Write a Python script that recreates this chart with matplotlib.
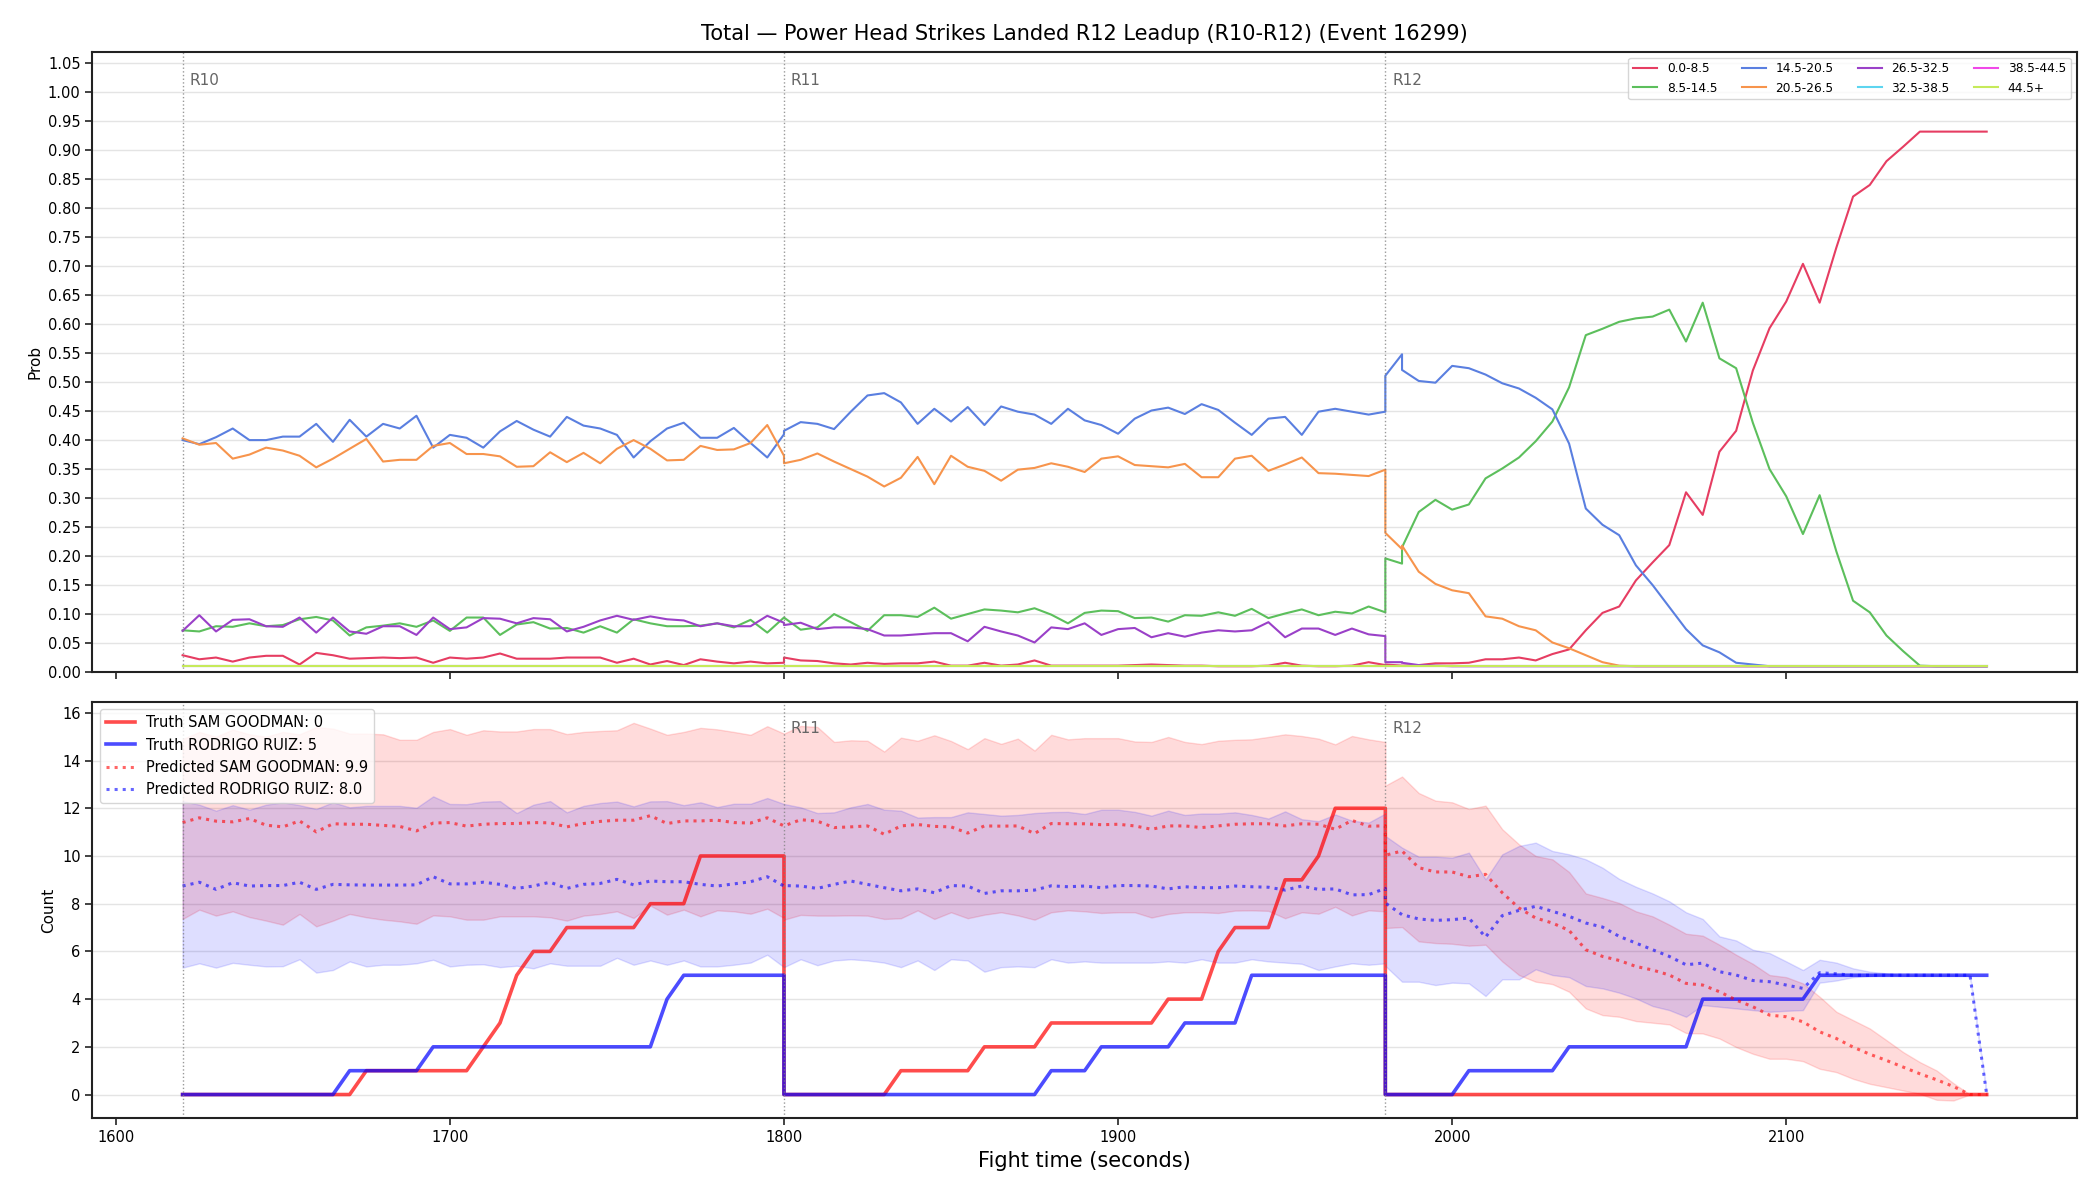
import numpy as np
import matplotlib
matplotlib.use('agg')
import matplotlib.pyplot as plt
import matplotlib.transforms as mtransforms

# round starts (seconds) and sample offsets inside a round
round_names = ['R10', 'R11', 'R12']
round_starts = [1620, 1800, 1980]
offsets = list(range(0, 185, 5))

# probability panel: R12 has a repeated sample at +5 s
t_prob = ([1620 + o for o in offsets] + [1800 + o for o in offsets]
          + [1980, 1985] + [1980 + o for o in offsets[1:]])
t_count = [1620 + o for o in offsets] + [1800 + o for o in offsets] + [1980 + o for o in offsets]

bucket_labels = ['0.0-8.5', '8.5-14.5', '14.5-20.5', '20.5-26.5',
                 '26.5-32.5', '32.5-38.5', '38.5-44.5', '44.5+']
bucket_colors = ['#e63d62', '#5cbf5c', '#5a7fe0', '#f7944c',
                 '#9a40c8', '#5dd5f0', '#f048e8', '#c6ea5a']

p_0_8 = [0.029, 0.022, 0.025, 0.018, 0.025, 0.028, 0.028, 0.013, 0.033, 0.029,
         0.023, 0.024, 0.025, 0.024, 0.025, 0.016, 0.025, 0.023, 0.025, 0.032,
         0.023, 0.023, 0.023, 0.025, 0.025, 0.025, 0.016, 0.023, 0.013, 0.019,
         0.012, 0.022, 0.018, 0.015, 0.018, 0.015, 0.016,
         0.025, 0.020, 0.019, 0.015, 0.013, 0.016, 0.014, 0.015, 0.015, 0.018,
         0.011, 0.011, 0.016, 0.011, 0.013, 0.020, 0.011, 0.011, 0.011, 0.011,
         0.011, 0.012, 0.013, 0.012, 0.011, 0.011, 0.010, 0.010, 0.010, 0.011,
         0.016, 0.011, 0.010, 0.010, 0.011, 0.017, 0.012,
         0.013, 0.011, 0.011, 0.012, 0.015, 0.015, 0.016, 0.022, 0.022, 0.025,
         0.020, 0.031, 0.039, 0.072, 0.102, 0.113, 0.158, 0.189, 0.219, 0.310,
         0.271, 0.380, 0.416, 0.520, 0.593, 0.639, 0.704, 0.637, 0.732, 0.820,
         0.840, 0.881, 0.906, 0.932, 0.932, 0.932, 0.932, 0.932]
p_8_14 = [0.072, 0.070, 0.079, 0.078, 0.084, 0.079, 0.081, 0.091, 0.095, 0.089,
          0.063, 0.077, 0.080, 0.084, 0.078, 0.089, 0.071, 0.094, 0.094, 0.064,
          0.082, 0.086, 0.075, 0.076, 0.068, 0.079, 0.068, 0.091, 0.084, 0.079,
          0.079, 0.080, 0.084, 0.077, 0.090, 0.068, 0.094,
          0.094, 0.073, 0.077, 0.100, 0.086, 0.071, 0.098, 0.098, 0.095, 0.111,
          0.092, 0.100, 0.108, 0.106, 0.103, 0.110, 0.099, 0.084, 0.102, 0.106,
          0.105, 0.093, 0.094, 0.087, 0.098, 0.097, 0.103, 0.097, 0.109, 0.093,
          0.101, 0.108, 0.098, 0.104, 0.101, 0.113, 0.103,
          0.196, 0.187, 0.215, 0.276, 0.297, 0.280, 0.289, 0.334, 0.351, 0.370,
          0.398, 0.432, 0.491, 0.581, 0.592, 0.604, 0.610, 0.613, 0.625, 0.570,
          0.637, 0.541, 0.524, 0.430, 0.350, 0.303, 0.238, 0.305, 0.208, 0.123,
          0.103, 0.063, 0.036, 0.011, 0.010, 0.010, 0.010, 0.010]
p_14_20 = [0.400, 0.393, 0.405, 0.420, 0.400, 0.400, 0.406, 0.406, 0.428, 0.397,
           0.435, 0.406, 0.428, 0.420, 0.442, 0.387, 0.409, 0.404, 0.387, 0.415,
           0.433, 0.418, 0.406, 0.440, 0.425, 0.420, 0.409, 0.370, 0.398, 0.420,
           0.430, 0.404, 0.404, 0.421, 0.395, 0.370, 0.410,
           0.416, 0.431, 0.428, 0.419, 0.449, 0.477, 0.481, 0.465, 0.428, 0.454,
           0.432, 0.457, 0.426, 0.458, 0.449, 0.444, 0.428, 0.454, 0.434, 0.426,
           0.411, 0.437, 0.451, 0.456, 0.445, 0.462, 0.452, 0.430, 0.409, 0.437,
           0.440, 0.409, 0.449, 0.454, 0.449, 0.444, 0.449,
           0.511, 0.548, 0.521, 0.502, 0.499, 0.528, 0.524, 0.513, 0.498, 0.489,
           0.473, 0.453, 0.394, 0.282, 0.254, 0.236, 0.184, 0.150, 0.112, 0.074,
           0.046, 0.034, 0.016, 0.013, 0.010, 0.010, 0.010, 0.010, 0.010, 0.010,
           0.010, 0.010, 0.010, 0.010, 0.010, 0.010, 0.010, 0.010]
p_20_26 = [0.403, 0.392, 0.395, 0.368, 0.375, 0.387, 0.382, 0.373, 0.353, 0.368,
           0.385, 0.402, 0.363, 0.366, 0.366, 0.390, 0.395, 0.376, 0.376, 0.372,
           0.354, 0.355, 0.379, 0.362, 0.378, 0.360, 0.385, 0.400, 0.385, 0.365,
           0.366, 0.390, 0.383, 0.384, 0.395, 0.426, 0.373,
           0.360, 0.366, 0.377, 0.363, 0.350, 0.337, 0.320, 0.335, 0.371, 0.324,
           0.373, 0.354, 0.347, 0.330, 0.349, 0.352, 0.360, 0.354, 0.345, 0.368,
           0.372, 0.357, 0.355, 0.353, 0.359, 0.336, 0.336, 0.368, 0.373, 0.347,
           0.358, 0.370, 0.343, 0.342, 0.340, 0.338, 0.349,
           0.240, 0.212, 0.218, 0.173, 0.152, 0.141, 0.136, 0.096, 0.092, 0.079,
           0.072, 0.051, 0.041, 0.029, 0.017, 0.011, 0.010, 0.010, 0.010, 0.010,
           0.010, 0.010, 0.010, 0.010, 0.010, 0.010, 0.010, 0.010, 0.010, 0.010,
           0.010, 0.010, 0.010, 0.010, 0.010, 0.010, 0.010, 0.010]
p_26_32 = [0.071, 0.098, 0.070, 0.090, 0.091, 0.079, 0.078, 0.094, 0.068, 0.094,
           0.070, 0.066, 0.079, 0.079, 0.064, 0.094, 0.074, 0.077, 0.093, 0.092,
           0.084, 0.093, 0.091, 0.070, 0.078, 0.089, 0.097, 0.090, 0.096, 0.091,
           0.089, 0.079, 0.084, 0.079, 0.079, 0.097, 0.085,
           0.081, 0.085, 0.074, 0.077, 0.077, 0.074, 0.063, 0.063, 0.065, 0.067,
           0.067, 0.053, 0.078, 0.070, 0.063, 0.051, 0.077, 0.074, 0.084, 0.064,
           0.074, 0.076, 0.060, 0.067, 0.061, 0.068, 0.072, 0.070, 0.072, 0.086,
           0.060, 0.075, 0.075, 0.064, 0.075, 0.065, 0.062,
           0.017, 0.017, 0.016, 0.012, 0.011, 0.010, 0.010, 0.010, 0.010, 0.010,
           0.010, 0.010, 0.010, 0.010, 0.010, 0.010, 0.010, 0.010, 0.010, 0.010,
           0.010, 0.010, 0.010, 0.010, 0.010, 0.010, 0.010, 0.010, 0.010, 0.010,
           0.010, 0.010, 0.010, 0.010, 0.010, 0.010, 0.010, 0.010]
# the three upper buckets sit on the 0.01 floor the whole time
p_32_38 = [0.010] * len(t_prob)
p_38_44 = [0.010] * len(t_prob)
p_44_up = [0.010] * len(t_prob)

truth_sam = ([0] * 11 + [1] * 7 + [2, 3, 5, 6, 6] + [7] * 5 + [8] * 3 + [10] * 6
             + [0] * 7 + [1] * 5 + [2] * 4 + [3] * 7 + [4] * 3 + [6] + [7] * 3 + [9] * 2 + [10] + [12] * 4
             + [0] * 37)
truth_rod = ([0] * 10 + [1] * 5 + [2] * 14 + [4] + [5] * 7
             + [0] * 16 + [1] * 3 + [2] * 5 + [3] * 4 + [5] * 9
             + [0] * 5 + [1] * 6 + [2] * 8 + [4] * 7 + [5] * 11)

pred_sam = [11.40, 11.60, 11.46, 11.43, 11.57, 11.29, 11.22, 11.47, 11.01, 11.35,
            11.33, 11.33, 11.28, 11.24, 11.05, 11.38, 11.40, 11.25, 11.33, 11.36,
            11.36, 11.40, 11.39, 11.22, 11.36, 11.45, 11.50, 11.50, 11.69, 11.36,
            11.47, 11.47, 11.50, 11.40, 11.38, 11.60, 11.26,
            11.26, 11.52, 11.46, 11.19, 11.22, 11.26, 10.91, 11.26, 11.32, 11.24,
            11.22, 10.96, 11.26, 11.25, 11.26, 10.94, 11.36, 11.35, 11.35, 11.31,
            11.33, 11.26, 11.12, 11.26, 11.26, 11.19, 11.26, 11.33, 11.35, 11.35,
            11.26, 11.35, 11.33, 11.12, 11.49, 11.25, 11.26,
            10.03, 10.21, 9.51, 9.33, 9.33, 9.13, 9.23, 8.46, 7.82, 7.40,
            7.19, 6.88, 6.07, 5.79, 5.62, 5.37, 5.22, 5.01, 4.66, 4.59,
            4.31, 3.96, 3.68, 3.33, 3.26, 3.05, 2.63, 2.35, 1.99, 1.69,
            1.43, 1.15, 0.87, 0.62, 0.34, 0.00, 0.00]
sam_hi = [14.90, 15.20, 15.00, 15.30, 15.10, 15.00, 15.20, 15.10, 15.40, 15.34,
          15.13, 15.13, 15.10, 14.87, 14.87, 15.20, 15.32, 15.08, 15.27, 15.22,
          15.22, 15.32, 15.32, 15.11, 15.20, 15.24, 15.27, 15.58, 15.34, 15.08,
          15.20, 15.37, 15.31, 15.20, 15.08, 15.44, 15.13,
          15.13, 15.45, 15.41, 14.78, 14.85, 14.83, 14.38, 14.96, 14.83, 15.06,
          14.82, 14.48, 14.94, 14.70, 14.92, 14.42, 15.08, 14.89, 14.94, 14.94,
          14.94, 14.80, 14.78, 14.99, 14.78, 14.69, 14.83, 14.87, 14.89, 14.99,
          15.10, 15.03, 14.92, 14.68, 15.03, 14.89, 14.78,
          12.95, 13.33, 12.64, 12.32, 12.25, 11.97, 12.11, 11.12, 10.49, 10.00,
          9.86, 9.33, 8.43, 8.24, 8.03, 7.68, 7.47, 7.12, 6.74, 6.66,
          6.28, 5.86, 5.48, 5.01, 4.92, 4.66, 4.10, 3.47, 3.12, 2.77,
          2.28, 1.78, 1.36, 1.01, 0.48, 0.00, 0.00]
sam_lo = [7.36, 7.75, 7.50, 7.68, 7.44, 7.29, 7.12, 7.57, 7.05, 7.29,
          7.57, 7.43, 7.33, 7.26, 7.16, 7.51, 7.47, 7.33, 7.33, 7.47,
          7.47, 7.47, 7.43, 7.29, 7.50, 7.57, 7.68, 7.40, 7.92, 7.54,
          7.75, 7.47, 7.72, 7.68, 7.58, 7.79, 7.40,
          7.33, 7.53, 7.50, 7.50, 7.51, 7.50, 7.36, 7.39, 7.72, 7.36,
          7.64, 7.39, 7.54, 7.64, 7.51, 7.33, 7.64, 7.72, 7.68, 7.61,
          7.64, 7.64, 7.42, 7.57, 7.64, 7.64, 7.61, 7.71, 7.72, 7.70,
          7.39, 7.64, 7.58, 7.87, 7.51, 7.72, 7.68,
          6.98, 7.02, 6.42, 6.35, 6.32, 6.24, 6.28, 5.58, 5.01, 4.73,
          4.63, 4.31, 3.61, 3.33, 3.26, 3.08, 3.01, 2.94, 2.58, 2.56,
          2.35, 1.99, 1.71, 1.50, 1.50, 1.40, 1.08, 0.94, 0.66, 0.45,
          0.31, 0.17, 0.03, -0.22, -0.25, 0.00, 0.00]

pred_rod = [8.74, 8.90, 8.60, 8.88, 8.74, 8.76, 8.76, 8.90, 8.60, 8.81,
            8.79, 8.78, 8.78, 8.78, 8.79, 9.13, 8.83, 8.83, 8.90, 8.81,
            8.64, 8.74, 8.90, 8.64, 8.81, 8.85, 9.02, 8.79, 8.95, 8.92,
            8.92, 8.81, 8.74, 8.83, 8.92, 9.13, 8.74,
            8.76, 8.74, 8.64, 8.81, 8.95, 8.81, 8.67, 8.54, 8.62, 8.46,
            8.76, 8.74, 8.43, 8.54, 8.54, 8.57, 8.75, 8.71, 8.74, 8.67,
            8.76, 8.76, 8.74, 8.62, 8.71, 8.67, 8.67, 8.74, 8.71, 8.69,
            8.57, 8.74, 8.60, 8.62, 8.37, 8.38, 8.64,
            8.03, 7.54, 7.36, 7.30, 7.33, 7.40, 6.60, 7.50, 7.72, 7.89,
            7.68, 7.47, 7.19, 7.02, 6.63, 6.35, 6.07, 5.79, 5.44, 5.51,
            5.15, 5.01, 4.78, 4.73, 4.59, 4.45, 5.11, 5.06, 5.00, 5.00,
            5.00, 5.00, 5.00, 5.00, 5.00, 5.00, 0.00]
rod_hi = [12.30, 12.15, 11.90, 12.13, 11.94, 12.15, 12.25, 12.13, 11.97, 12.25,
          12.04, 12.10, 12.10, 12.10, 12.02, 12.50, 12.18, 12.17, 12.28, 12.30,
          11.80, 12.15, 12.30, 11.83, 12.10, 12.22, 12.28, 12.08, 12.29, 12.30,
          12.13, 12.25, 12.05, 12.19, 12.19, 12.43, 12.18,
          12.18, 12.04, 11.80, 11.83, 12.04, 12.18, 11.94, 11.90, 11.61, 11.63,
          11.63, 11.83, 11.76, 11.69, 11.72, 11.80, 11.84, 11.85, 11.76, 11.94,
          11.94, 11.85, 11.69, 11.90, 11.72, 11.78, 11.78, 11.83, 11.72, 11.57,
          11.87, 11.54, 11.46, 11.74, 11.48, 11.40, 11.78,
          10.84, 10.35, 9.97, 9.97, 9.93, 10.14, 9.02, 10.07, 10.42, 10.56,
          10.21, 10.07, 9.86, 9.51, 9.04, 8.71, 8.43, 8.10, 7.64, 7.36,
          6.63, 6.46, 6.07, 5.93, 5.58, 5.22, 5.65, 5.53, 5.29, 5.15,
          5.08, 5.00, 5.00, 5.00, 5.00, 5.00, 0.00]
rod_lo = [5.32, 5.50, 5.32, 5.52, 5.44, 5.37, 5.38, 5.67, 5.11, 5.22,
          5.58, 5.37, 5.44, 5.44, 5.50, 5.65, 5.37, 5.44, 5.46, 5.34,
          5.40, 5.29, 5.50, 5.40, 5.40, 5.40, 5.73, 5.44, 5.62, 5.44,
          5.62, 5.37, 5.37, 5.44, 5.53, 5.86, 5.34,
          5.34, 5.67, 5.42, 5.62, 5.67, 5.62, 5.53, 5.34, 5.62, 5.22,
          5.67, 5.62, 5.15, 5.34, 5.37, 5.34, 5.67, 5.53, 5.58, 5.53,
          5.53, 5.53, 5.53, 5.58, 5.53, 5.67, 5.53, 5.53, 5.67, 5.58,
          5.53, 5.48, 5.22, 5.37, 5.50, 5.44, 5.50,
          5.39, 4.73, 4.73, 4.59, 4.69, 4.66, 4.13, 4.83, 4.83, 5.25,
          5.01, 4.92, 4.55, 4.45, 4.27, 4.03, 3.71, 3.54, 3.26, 3.75,
          3.68, 3.61, 3.54, 3.47, 3.51, 3.54, 4.69, 4.78, 4.92, 4.97,
          5.01, 5.00, 5.00, 5.00, 5.00, 5.00, 0.00]

fighter_a = 'SAM GOODMAN'
fighter_b = 'RODRIGO RUIZ'
final_a, final_b = 0, 5
pred_final_a, pred_final_b = 9.9, 8.0

probs = [p_0_8, p_8_14, p_14_20, p_20_26, p_26_32, p_32_38, p_38_44, p_44_up]

plt.rcParams['font.family'] = 'DejaVu Sans'
fig = plt.figure(figsize=(21, 12), dpi=100)
gs = fig.add_gridspec(2, 1, height_ratios=[620, 416], hspace=0.058,
                      left=0.044, right=0.989, top=0.957, bottom=0.068)
ax1 = fig.add_subplot(gs[0])
ax2 = fig.add_subplot(gs[1], sharex=ax1)

for lab, col, vals in zip(bucket_labels, bucket_colors, probs):
    ax1.plot(t_prob, vals, color=col, lw=1.5, label=lab)

ax1.set_ylim(0, 1.07)
ax1.set_yticks(np.arange(0, 1.06, 0.05))
ax1.set_yticklabels(['%.2f' % v for v in np.arange(0, 1.06, 0.05)])
ax1.set_ylabel('Prob', fontsize=11)
ax1.set_title('Total \u2014 Power Head Strikes Landed R12 Leadup (R10-R12) (Event 16299)',
              fontsize=15, pad=8)
ax1.legend(loc='upper right', ncol=4, fontsize=8.7, framealpha=0.8)
plt.setp(ax1.get_xticklabels(), visible=False)

ax2.fill_between(t_count, sam_lo, sam_hi, color='red', alpha=0.14, lw=1)
ax2.fill_between(t_count, rod_lo, rod_hi, color='blue', alpha=0.13, lw=1)
ax2.plot(t_count, truth_sam, color='red', alpha=0.7, lw=2.6,
         label='Truth %s: %d' % (fighter_a, final_a))
ax2.plot(t_count, truth_rod, color='blue', alpha=0.7, lw=2.6,
         label='Truth %s: %d' % (fighter_b, final_b))
ax2.plot(t_count, pred_sam, color='red', alpha=0.6, lw=2.2, ls=':',
         label='Predicted %s: %.1f' % (fighter_a, pred_final_a))
ax2.plot(t_count, pred_rod, color='blue', alpha=0.6, lw=2.2, ls=':',
         label='Predicted %s: %.1f' % (fighter_b, pred_final_b))
ax2.set_ylim(-1.0, 16.45)
ax2.set_yticks(range(0, 17, 2))
ax2.set_ylabel('Count', fontsize=11)
ax2.set_xlabel('Fight time (seconds)', fontsize=15)
ax2.legend(loc='upper left', fontsize=10.5, framealpha=0.8)

ax1.set_xlim(1593, 2187)
ax2.set_xticks(range(1600, 2101, 100))

for ax in (ax1, ax2):
    ax.grid(axis='y', color='#e4e4e4', lw=1)
    ax.set_axisbelow(True)
    for s in ax.spines.values():
        s.set_linewidth(1.5)
        s.set_color('#222222')
    ax.tick_params(labelsize=10.5, length=5, width=1.2, color='#222222')
    trans = mtransforms.blended_transform_factory(ax.transData, ax.transAxes)
    ytxt = 0.965 if ax is ax1 else 0.955
    for name, t0 in zip(round_names, round_starts):
        ax.axvline(t0, color='gray', ls=':', lw=1, alpha=0.8)
        if ax is ax2 and t0 == round_starts[0]:
            continue
        ax.text(t0 + 2, ytxt, name, transform=trans, va='top', ha='left',
                color='#666666', fontsize=11)

plt.savefig('out.png', dpi=100)
